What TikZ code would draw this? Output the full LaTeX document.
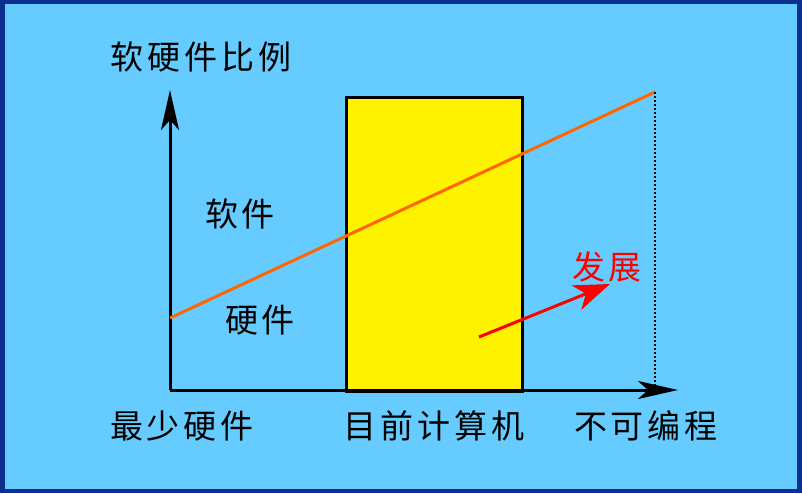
\documentclass[tikz,border=0pt]{standalone}
\usepackage{fontspec}
\setmainfont[LetterSpace=12]{Noto Sans CJK SC}
\usetikzlibrary{arrows.meta}
\definecolor{bgblue}{HTML}{66CCFF}
\definecolor{frameblue}{HTML}{0B2F8F}
\definecolor{lineorange}{HTML}{FF6600}

\begin{document}
\begin{tikzpicture}[x=1pt,y=-1pt,
  lbl/.style={font=\fontsize{33}{36}\selectfont,inner sep=0pt},
  axis/.style={line width=3pt,-{Stealth[length=40pt,width=18pt,inset=10pt]}}]
% frame and background
\fill[frameblue] (0,0) rectangle (802,493);
\fill[bgblue] (5,4) rectangle (797,489);
\useasboundingbox (0,0) rectangle (802,493);
% chip
\node (chip) at (434,244) [draw,line width=3pt,fill=yellow,minimum width=176pt,minimum height=294pt,inner sep=0pt] {};
% axes
\coordinate (o) at (170,390);
\coordinate (ytop) at (170,90);
\coordinate (xend) at (678,390);
\draw[axis] (o) -- (ytop);
\draw[axis] (o) -- (xend);
% ratio line
\coordinate (lo) at (170,318);
\coordinate (hi) at (655,92);
\coordinate (hifoot) at (655,390);
\draw[lineorange,line width=3pt] (lo) -- (hi);
\draw[dotted,line width=2pt] (hi) -- (hifoot);
% labels
\node (ratio) at (201,57) [lbl] {软硬件比例};
\node (soft) at (240,214) [lbl] {软件};
\node (hard) at (260,320) [lbl] {硬件};
\node (minhw) at (182,426) [lbl] {最少硬件};
\node (now) at (434,426) [lbl] {目前计算机};
\node (noprog) at (646,426) [lbl] {不可编程};
\node (dev) at (607,267) [lbl,red] {发展};
\coordinate (devfrom) at (479,337);
\coordinate (devto) at (610,284);
\draw[red,line width=3pt,-{Stealth[length=36pt,width=26pt,inset=10pt]}] (devfrom) -- (devto);
\end{tikzpicture}
\end{document}
